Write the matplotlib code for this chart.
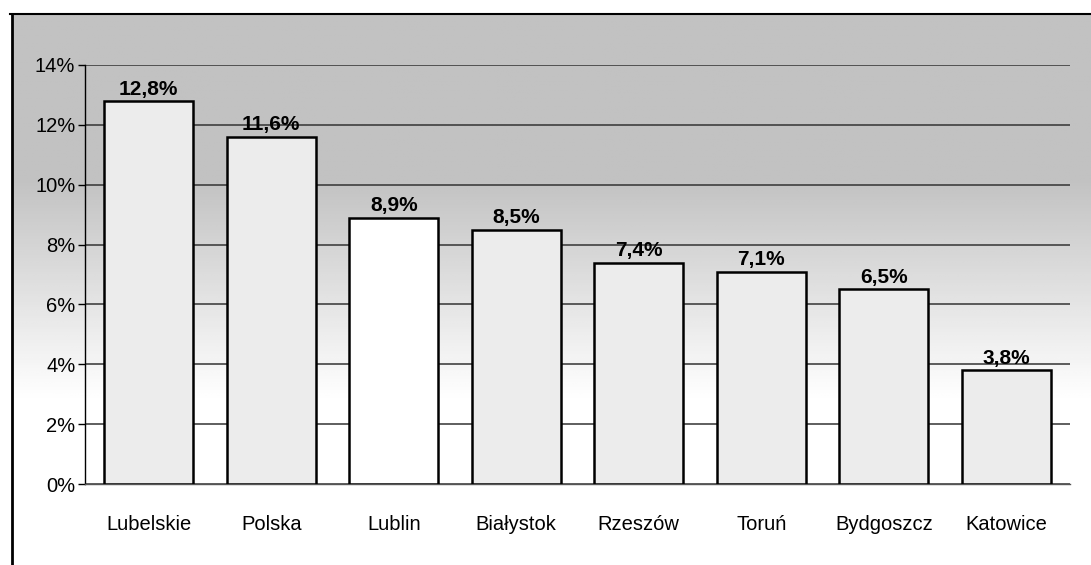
import numpy as np
import matplotlib
matplotlib.use("Agg")
import matplotlib.pyplot as plt
from matplotlib.lines import Line2D

categories = ["Lubelskie", "Polska", "Lublin", "Białystok", "Rzeszów", "Toruń", "Bydgoszcz", "Katowice"]
values = [12.8, 11.6, 8.9, 8.5, 7.4, 7.1, 6.5, 3.8]
value_labels = ["12,8%", "11,6%", "8,9%", "8,5%", "7,4%", "7,1%", "6,5%", "3,8%"]
yticks = [0, 2, 4, 6, 8, 10, 12, 14]
ytick_labels = ["0%", "2%", "4%", "6%", "8%", "10%", "12%", "14%"]

plt.rcParams['font.family'] = ['Liberation Sans', 'DejaVu Sans']

W, H = 1091, 565
fig = plt.figure(figsize=(W / 100, H / 100), dpi=100)
fig.patch.set_facecolor('white')

# background gradient (scanned grey stipple, darker at top)
bg = fig.add_axes([12 / W, 0, 1 - 12 / W, 1 - 14 / H], zorder=0)
grad = np.linspace(0, 1, 200)[:, None]
shade = 0.76 + 0.24 * np.clip((grad - 0.30) / 0.40, 0, 1)
img = np.repeat(shade, 10, axis=1)
bg.imshow(img, cmap='gray', vmin=0, vmax=1, aspect='auto', extent=[0, 1, 0, 1])
bg.set_axis_off()

ax = fig.add_axes([85 / W, 1 - 484 / H, (1070 - 85) / W, (484 - 65) / H], zorder=2)
ax.patch.set_alpha(0)

x = np.arange(len(categories))
fills = ['#ececec'] * len(categories)
fills[2] = 'white'
ax.bar(x, values, width=0.73, color=fills, edgecolor='black', linewidth=1.8, zorder=3)

for xi, v, lab in zip(x, values, value_labels):
    ax.text(xi, v + 0.08, lab, ha='center', va='bottom', fontsize=15, fontweight='bold', zorder=4)

ax.set_xlim(-0.52, len(categories) - 0.48)
ax.set_ylim(0, 14)
ax.set_yticks(yticks)
ax.set_yticklabels(ytick_labels, fontsize=14.5)
ax.set_xticks(x)
ax.set_xticklabels(categories, fontsize=14.5)
ax.tick_params(axis='x', length=0, pad=22)
ax.tick_params(axis='y', length=5, width=1, pad=2, direction='out')
ax.grid(axis='y', color='#333333', linewidth=1.1, zorder=1)
ax.set_axisbelow(True)
for s in ['top', 'right']:
    ax.spines[s].set_visible(False)
ax.spines['left'].set_linewidth(1.0)
ax.spines['bottom'].set_linewidth(1.0)
ax.spines['bottom'].set_color('#555555')

# outer frame of the scanned chart
fig.add_artist(Line2D([12 / W, 12 / W], [0, 1 - 14 / H], transform=fig.transFigure, color='black', linewidth=2))
fig.add_artist(Line2D([10 / W, 1], [1 - 14 / H, 1 - 14 / H], transform=fig.transFigure, color='black', linewidth=1.5))

fig.savefig('out.png', dpi=100)
